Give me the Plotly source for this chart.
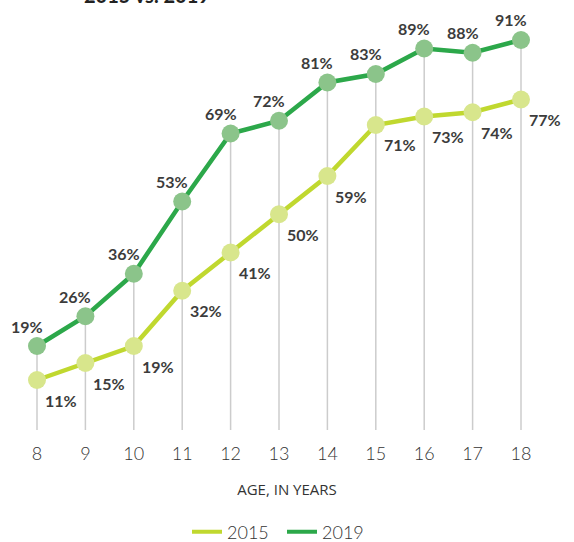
import plotly.graph_objects as go

ages = [8, 9, 10, 11, 12, 13, 14, 15, 16, 17, 18]
pct_2015 = [11, 15, 19, 32, 41, 50, 59, 71, 73, 74, 77]
pct_2019 = [19, 26, 36, 53, 69, 72, 81, 83, 89, 88, 91]
labels_2015 = [f"{v}%" for v in pct_2015]
labels_2019 = [f"{v}%" for v in pct_2019]

Y_MIN, Y_MAX = -0.765, 100.41
X_MIN, X_MAX = 7.2355, 19.095

C15_LINE, C15_MARK = "#c0d82f", "#d8e68c"
C19_LINE, C19_MARK = "#2ca84a", "#8bc48a"

fig = go.Figure()

# vertical drop lines
gx, gy = [], []
for a, v in zip(ages, pct_2019):
    gx += [a, a, None]
    gy += [Y_MIN, v, None]
fig.add_trace(go.Scatter(x=gx, y=gy, mode="lines", line=dict(color="#cccccc", width=1.5),
                         showlegend=False, hoverinfo="skip"))

fig.add_trace(go.Scatter(x=ages, y=pct_2015, mode="lines+markers", name="2015",
                         line=dict(color=C15_LINE, width=4.5),
                         marker=dict(size=18, color=C15_MARK), showlegend=False))
fig.add_trace(go.Scatter(x=ages, y=pct_2019, mode="lines+markers", name="2019",
                         line=dict(color=C19_LINE, width=4.5),
                         marker=dict(size=18, color=C19_MARK), showlegend=False))
# legend entries (line only)
fig.add_trace(go.Scatter(x=[None], y=[None], mode="lines", name="2015",
                         line=dict(color=C15_LINE, width=4)))
fig.add_trace(go.Scatter(x=[None], y=[None], mode="lines", name="2019",
                         line=dict(color=C19_LINE, width=4)))

lab_font = dict(family="Lato", size=16, color="#3c3c3c", weight="bold")
for a, v, t in zip(ages, pct_2019, labels_2019):
    fig.add_annotation(x=a, y=v, text=t, showarrow=False, font=lab_font,
                       xshift=-10, yshift=20)
for a, v, t in zip(ages, pct_2015, labels_2015):
    fig.add_annotation(x=a, y=v, text=t, showarrow=False, font=lab_font,
                       xshift=24, yshift=-20)

fig.add_annotation(xref="paper", x=147 / 574, xanchor="center",
                   yref="paper", y=1 - 9 / 430, yanchor="bottom",
                   text="2015 vs. 2019", showarrow=False,
                   font=dict(family="Lato", size=20, color="#222222", weight="bold"))

fig.update_layout(
    width=574, height=542,
    margin=dict(l=0, r=0, t=0, b=112),
    paper_bgcolor="white", plot_bgcolor="white",
    font=dict(family="Lato", color="#333333"),
    xaxis=dict(range=[X_MIN, X_MAX], tickvals=ages, ticktext=[str(a) for a in ages],
               showgrid=False, zeroline=False, showline=False, automargin=False,
               ticks="outside", ticklen=7, tickcolor="rgba(0,0,0,0)",
               tickfont=dict(size=18, color="#333333", weight=300),
               title=dict(text="AGE, IN YEARS",
                          font=dict(family="Open Sans", size=15, color="#333333"),
                          standoff=21)),
    yaxis=dict(range=[Y_MIN, Y_MAX], showgrid=False, zeroline=False, showline=False,
               showticklabels=False, automargin=False),
    legend=dict(orientation="h", xref="container", x=282 / 574, xanchor="center",
                yref="container", y=1 - 532 / 542, yanchor="middle",
                font=dict(size=18, color="#333333", weight=300),
                entrywidth=50, traceorder="normal"),
)

fig.write_html("out.html", config={"displayModeBar": False},
               post_script="document.body.style.margin='0';document.body.style.padding='0';")
